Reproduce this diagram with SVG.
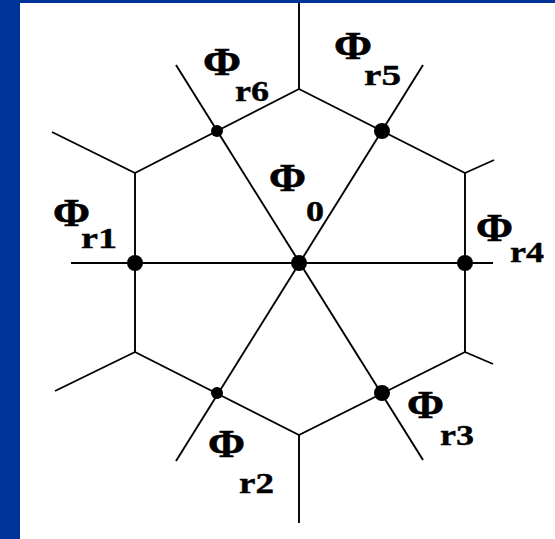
<svg xmlns="http://www.w3.org/2000/svg" width="555" height="539" viewBox="0 0 555 539">
<style>
.ln{stroke:#000;stroke-width:1.9;fill:none;stroke-linecap:butt}
.dot{fill:#000}
.phi{font-family:"Liberation Serif",serif;font-weight:bold;font-size:39px;fill:#000;stroke:#000;stroke-width:0.6}
.sub{font-family:"Liberation Serif",serif;font-weight:bold;font-size:30px;fill:#000;stroke:#000;stroke-width:0.4}
</style>
<rect x="0" y="0" width="555" height="539" fill="#003399"/>
<rect x="20" y="3" width="535" height="536" fill="#ffffff"/>
<g id="connectors">
<polygon class="ln" points="299,89 465,173 465,352 299,435 135,352 135,173"/>
<line class="ln" x1="299" y1="3" x2="299" y2="89"/>
<line class="ln" x1="299" y1="435" x2="299" y2="523"/>
<line class="ln" x1="135" y1="173" x2="52" y2="132"/>
<line class="ln" x1="465" y1="173" x2="494" y2="160"/>
<line class="ln" x1="135" y1="352" x2="55" y2="391"/>
<line class="ln" x1="465" y1="352" x2="493" y2="364"/>
<line class="ln" x1="71" y1="263" x2="493" y2="263"/>
<line class="ln" x1="176" y1="65" x2="423" y2="460"/>
<line class="ln" x1="423" y1="65" x2="176" y2="461"/>
</g>
<g id="phi0">
<circle class="dot" cx="299" cy="263" r="8"/>
<text class="phi" x="269" y="191" textLength="37" lengthAdjust="spacingAndGlyphs">Φ</text>
<text class="sub" x="306" y="221" textLength="18" lengthAdjust="spacingAndGlyphs">0</text>
</g>
<g id="phir1">
<circle class="dot" cx="135" cy="263" r="8"/>
<text class="phi" x="53" y="226" textLength="37" lengthAdjust="spacingAndGlyphs">Φ</text>
<text class="sub" x="81" y="248" textLength="36" lengthAdjust="spacingAndGlyphs">r1</text>
</g>
<g id="phir2">
<circle class="dot" cx="217" cy="393" r="6"/>
<text class="phi" x="208" y="457" textLength="37" lengthAdjust="spacingAndGlyphs">Φ</text>
<text class="sub" x="239" y="493" textLength="35" lengthAdjust="spacingAndGlyphs">r2</text>
</g>
<g id="phir3">
<circle class="dot" cx="382" cy="393" r="8"/>
<text class="phi" x="407" y="418" textLength="37" lengthAdjust="spacingAndGlyphs">Φ</text>
<text class="sub" x="440" y="445" textLength="34" lengthAdjust="spacingAndGlyphs">r3</text>
</g>
<g id="phir4">
<circle class="dot" cx="465" cy="263" r="8"/>
<text class="phi" x="476" y="241" textLength="37" lengthAdjust="spacingAndGlyphs">Φ</text>
<text class="sub" x="510" y="262" textLength="34" lengthAdjust="spacingAndGlyphs">r4</text>
</g>
<g id="phir5">
<circle class="dot" cx="382" cy="131" r="8"/>
<text class="phi" x="334" y="59" textLength="38" lengthAdjust="spacingAndGlyphs">Φ</text>
<text class="sub" x="364" y="85" textLength="37" lengthAdjust="spacingAndGlyphs">r5</text>
</g>
<g id="phir6">
<circle class="dot" cx="217" cy="131" r="6"/>
<text class="phi" x="203" y="75" textLength="38" lengthAdjust="spacingAndGlyphs">Φ</text>
<text class="sub" x="235" y="101" textLength="34" lengthAdjust="spacingAndGlyphs">r6</text>
</g>
</svg>
